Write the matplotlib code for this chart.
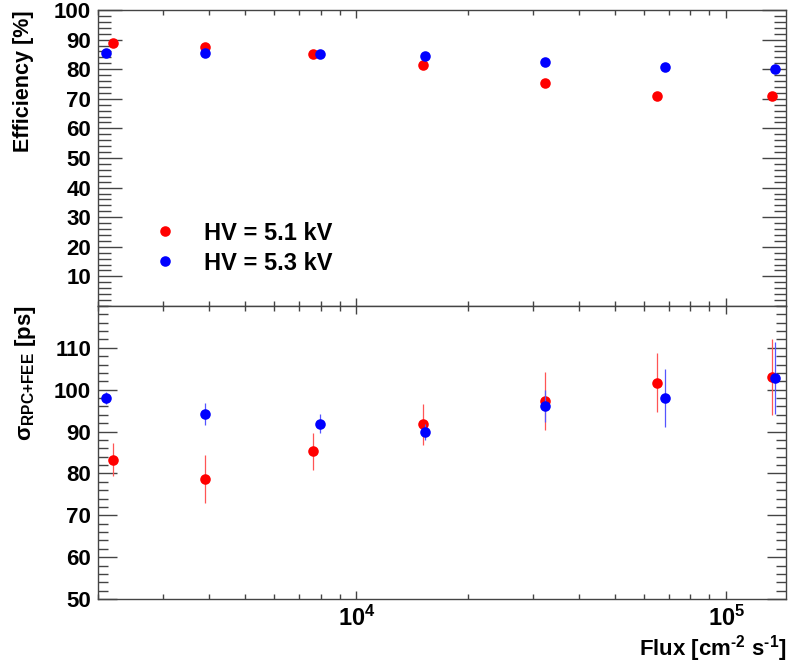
import matplotlib
matplotlib.use('Agg')
import matplotlib.pyplot as plt
from matplotlib.ticker import FixedLocator, MultipleLocator, NullFormatter, FixedFormatter, LogLocator

matplotlib.rcParams.update({
    'font.family': ['Liberation Sans', 'DejaVu Sans'],
    'font.weight': 'bold',
    'mathtext.fontset': 'custom',
    'mathtext.rm': 'Liberation Sans:bold',
    'mathtext.bf': 'Liberation Sans:bold',
    'mathtext.it': 'Liberation Sans:bold:italic',
    'mathtext.sf': 'Liberation Sans',
    'mathtext.default': 'bf',
})

# ------------------------------------------------------------
# Data
# ------------------------------------------------------------
flux_51 = [2200, 3900, 7650, 15100, 32300, 65000, 133000]
flux_53 = [2100, 3900, 7950, 15300, 32300, 68200, 135000]

eff_51 = [88.8, 87.5, 85.0, 81.3, 75.4, 71.0, 71.0]
eff_53 = [85.4, 85.6, 85.0, 84.6, 82.6, 80.6, 80.0]

sig_51 = [83.3, 78.7, 85.3, 91.7, 97.3, 101.7, 103.0]
sig_51_err = [3.9, 5.8, 4.4, 4.8, 7.0, 7.0, 9.0]
sig_53 = [98.0, 94.2, 91.9, 89.9, 96.1, 98.1, 102.9]
sig_53_err = [1.5, 2.6, 2.3, 2.0, 3.8, 6.9, 8.6]

labels = ['HV = 5.1 kV', 'HV = 5.3 kV']
RED = '#ff0000'
BLUE = '#0000ff'
AXC = '#444444'

fig = plt.figure(figsize=(7.9, 6.66), dpi=100)
W, H = 790, 666
x0, x1 = 98 / W, 786 / W
ax1 = fig.add_axes([x0, 1 - 306 / H, x1 - x0, (306 - 10) / H])
ax2 = fig.add_axes([x0, 1 - 599 / H, x1 - x0, (599 - 306) / H])

xlim = (2000, 1.45e5)


def style(ax, ylen, yminlen):
    ax.set_xscale('log')
    ax.set_xlim(*xlim)
    ax.xaxis.set_major_locator(FixedLocator([1e4, 1e5]))
    ax.xaxis.set_minor_locator(LogLocator(base=10, subs=range(2, 10)))
    ax.xaxis.set_minor_formatter(NullFormatter())
    ax.tick_params(axis='both', which='both', direction='in', top=True, right=True,
                   color=AXC, width=1.0)
    ax.tick_params(axis='x', which='major', length=6)
    ax.tick_params(axis='x', which='minor', length=3.6)
    ax.tick_params(axis='y', which='major', length=ylen)
    ax.tick_params(axis='y', which='minor', length=yminlen)
    ax.tick_params(axis='y', which='major', labelsize=16, pad=5)
    for s in ax.spines.values():
        s.set_color(AXC)
        s.set_linewidth(1.0)


# ---------------- top panel: efficiency ----------------
style(ax1, 17, 9)
ax1.plot(flux_51, eff_51, 'o', color=RED, ms=7.6, mew=0, label=labels[0], zorder=3)
ax1.plot(flux_53, eff_53, 'o', color=BLUE, ms=7.6, mew=0, label=labels[1], zorder=3)
ax1.set_ylim(0, 100)
ax1.yaxis.set_major_locator(FixedLocator([10, 20, 30, 40, 50, 60, 70, 80, 90, 100]))
ax1.yaxis.set_minor_locator(MultipleLocator(2))
ax1.xaxis.set_major_formatter(NullFormatter())
ax1.legend(loc='upper left', bbox_to_anchor=(0.08, 0.285), frameon=False,
           fontsize=17, handlelength=1.0, handletextpad=1.15, labelspacing=0.3,
           borderpad=0, borderaxespad=0, numpoints=1)

# ---------------- bottom panel: time resolution ----------------
style(ax2, 13.7, 7.2)
ax2.errorbar(flux_51, sig_51, yerr=sig_51_err, fmt='o', color=RED, ms=7.6, mew=0,
             ecolor='#ff5555', elinewidth=0.9, capsize=1.6, capthick=0.9, zorder=3)
ax2.errorbar(flux_53, sig_53, yerr=sig_53_err, fmt='o', color=BLUE, ms=7.6, mew=0,
             ecolor='#5555ff', elinewidth=0.9, capsize=1.6, capthick=0.9, zorder=4)
ax2.set_ylim(50, 120)
ax2.yaxis.set_major_locator(FixedLocator([50, 60, 70, 80, 90, 100, 110]))
ax2.yaxis.set_minor_locator(MultipleLocator(2))
ax2.xaxis.set_major_formatter(FixedFormatter([r'$10^{4}$', r'$10^{5}$']))
ax2.tick_params(axis='x', which='major', labelsize=17, pad=5)

# axis titles
fig.text(23 / W, 1 - 10 / H, 'Efficiency [%]', rotation=90, ha='center', va='top',
         fontsize=15.5, fontweight='bold')
fig.text(25 / W, 1 - 305 / H, r'$\mathsf{\sigma}_{\text{RPC+FEE}}$ [ps]', rotation=90,
         ha='center', va='top', fontsize=16, fontweight='bold')
fig.text(786 / W, 1 - 664 / H, r'Flux [cm$^{\text{-2}}$ s$^{\text{-1}}$]', ha='right',
         va='bottom', fontsize=16, fontweight='bold')

fig.savefig('out.png', dpi=100)
